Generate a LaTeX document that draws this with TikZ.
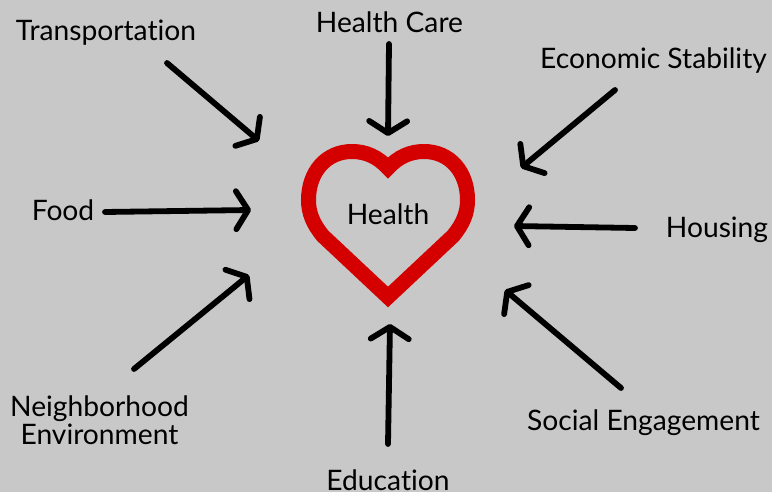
\documentclass[tikz,border=0pt]{standalone}
\usepackage{fontspec}
\setmainfont{Lato}[Ligatures=NoCommon]
\usetikzlibrary{arrows.meta}
\definecolor{bggray}{HTML}{C8C8C8}
\definecolor{heartred}{HTML}{D40000}
\tikzset{
  lbl/.style={font=\fontsize{28.2}{28}\selectfont,text=black,inner sep=0pt,align=center,anchor=base},
  conn/.style={draw=black,line width=5.8pt,line cap=round,line join=round,
    -{Straight Barb[length=12pt,width=38pt,line width=5.8pt,round]}},
  heart/.style={draw=heartred,line width=15pt,line join=miter,miter limit=12}
}
\begin{document}
\begin{tikzpicture}[x=1pt,y=-1pt]
\fill[bggray] (0,0) rectangle (772,492);
\useasboundingbox (0,0) rectangle (772,492);
% heart
\draw[heart] (388,168) .. controls (378,157) and (366,151.5) .. (352,151.5)
  .. controls (326,151.5) and (308.5,172) .. (308.5,200)
  .. controls (308.5,213) and (313,224) .. (323,236)
  -- (388,297) -- (453,236)
  .. controls (463,224) and (467.5,213) .. (467.5,200)
  .. controls (467.5,172) and (450,151.5) .. (424,151.5)
  .. controls (410,151.5) and (398,157) .. (388,168) -- cycle;
\node[lbl] (health) at (388,225) {Health};
% labels
\node[lbl] (trans) at (106,40.5) {Transportation};
\node[lbl] (care) at (389.5,33) {Health Care};
\node[lbl] (econ) at (653.5,69) {Economic Stability};
\node[lbl] (food) at (63,221) {Food};
\node[lbl] (housing) at (717,237) {Housing};
\node[lbl,anchor=north] (neigh) at (99.5,396) {Neighborhood\\Environment};
\node[lbl] (social) at (643.5,430) {Social Engagement};
\node[lbl] (edu) at (388,490) {Education};
% connector ends
\coordinate (t0) at (167,63);   \coordinate (t1) at (259,141);
\coordinate (c0) at (389,44);   \coordinate (c1) at (388,136);
\coordinate (e0) at (615,90);   \coordinate (e1) at (521,168);
\coordinate (f0) at (105,212);  \coordinate (f1) at (251,210);
\coordinate (h0) at (635,228);  \coordinate (h1) at (514,226);
\coordinate (n0) at (134,369);  \coordinate (n1) at (249,275);
\coordinate (s0) at (621,388);  \coordinate (s1) at (505,290);
\coordinate (d0) at (388,444);  \coordinate (d1) at (390,324);
\draw[conn] (t0) -- (t1);
\draw[conn] (c0) -- (c1);
\draw[conn] (e0) -- (e1);
\draw[conn] (f0) -- (f1);
\draw[conn] (h0) -- (h1);
\draw[conn] (n0) -- (n1);
\draw[conn] (s0) -- (s1);
\draw[conn] (d0) -- (d1);
\end{tikzpicture}
\end{document}
